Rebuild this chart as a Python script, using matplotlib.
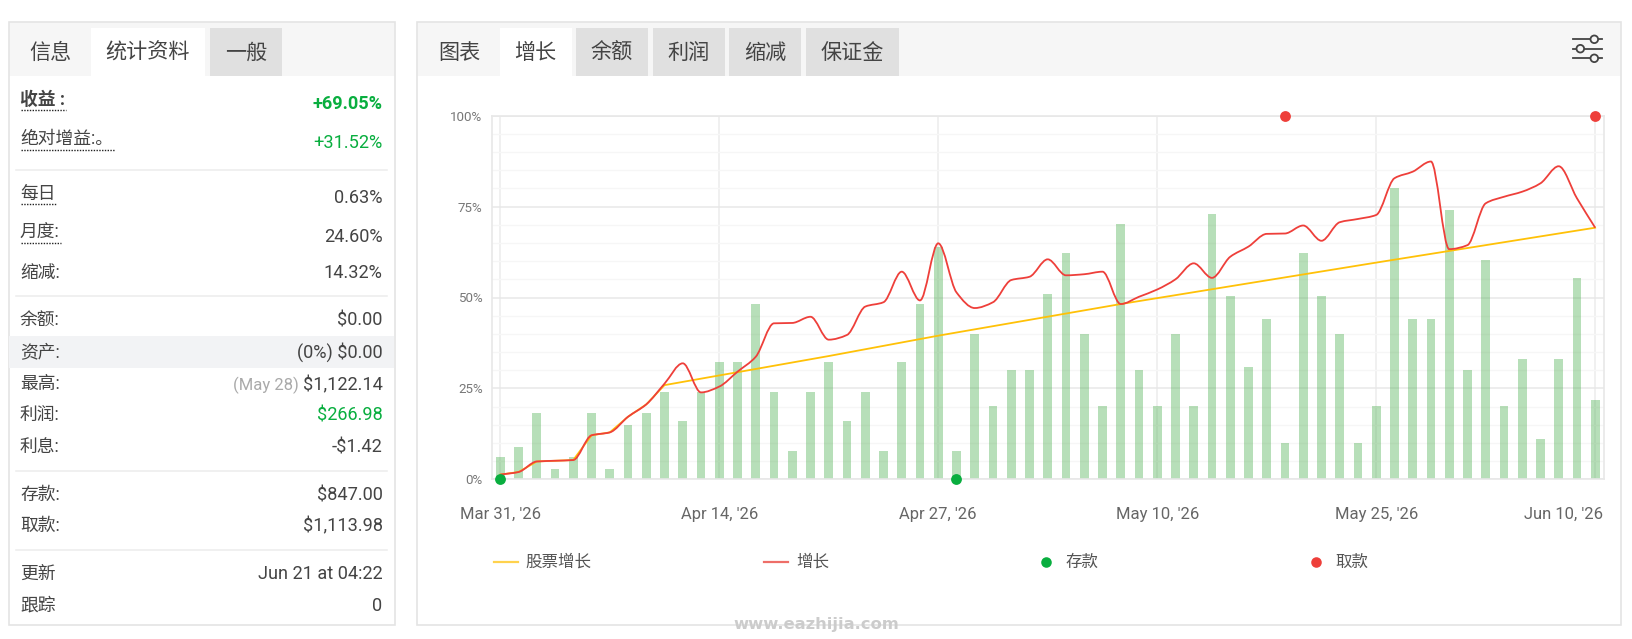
import numpy as np
import matplotlib

matplotlib.use("Agg")

import matplotlib.pyplot as plt
from matplotlib.patches import Circle, PathPatch, Rectangle
from matplotlib.path import Path
from matplotlib.transforms import ScaledTranslation

plt.rcParams["font.family"] = ["Roboto", "Noto Sans CJK SC", "DejaVu Sans"]

W, H = 1632, 639

# chart values, one per trading day
x_labels = ["Mar 31, '26", "Apr 14, '26", "Apr 27, '26", "May 10, '26", "May 25, '26", "Jun 10, '26"]
x_label_idx = [0, 12, 24, 36, 48, 60]
y_ticks = [0, 25, 50, 75, 100]
y_minor = [5, 10, 15, 20, 30, 35, 40, 45, 55, 60, 65, 70, 80, 85, 90, 95]

bars = [
    6.1, 9.0, 18.1, 2.8, 6.1, 18.1, 2.8, 14.8, 18.1, 23.9, 16.0, 23.9, 32.2, 32.2, 48.2, 23.9,
    7.8, 23.9, 32.2, 16.0, 23.9, 7.8, 32.2, 48.2, 64.0, 7.8, 40.0, 20.2, 30.0, 30.0, 51.1, 62.2,
    40.0, 20.2, 70.1, 30.0, 20.2, 40.0, 20.2, 73.0, 50.3, 30.9, 44.1, 9.9, 62.2, 50.3, 40.0, 9.9,
    20.2, 80.0, 44.1, 44.1, 74.2, 30.0, 60.2, 20.2, 33.0, 11.1, 33.0, 55.3, 21.8,
]
growth = [
    1.3, 2.0, 4.9, 5.1, 5.3, 12.1, 12.9, 17.2, 20.6, 26.3, 31.9, 23.9, 25.5, 29.6, 33.7, 42.9,
    43.0, 44.7, 38.4, 39.7, 47.5, 48.7, 57.1, 49.2, 64.9, 51.4, 47.1, 48.7, 54.8, 55.7, 60.5, 56.1,
    56.4, 57.1, 48.2, 50.2, 52.2, 55.0, 59.4, 55.4, 61.2, 64.0, 67.5, 67.6, 69.8, 65.6, 70.7, 71.6,
    72.7, 82.8, 84.6, 87.4, 63.3, 64.4, 75.9, 77.7, 79.1, 81.4, 86.1, 77.3, 69.2,
]
equity_idx = [0, 1, 2, 3, 4, 5, 6, 7, 8, 9, 18, 24, 34, 48, 60]
equity = [1.3, 2.0, 4.9, 5.1, 5.3, 12.1, 12.9, 17.2, 20.6, 25.9, 33.9, 39.5, 48.2, 59.6, 69.2]
deposit_idx = [0, 25]
deposit_val = [0, 0]
withdraw_idx = [43, 60]
withdraw_val = [100, 100]

# side panel text
left_tabs = ["信息", "统计资料", "一般"]
right_tabs = ["图表", "增长", "余额", "利润", "缩减", "保证金"]
legend_names = ["股票增长", "增长", "存款", "取款"]
stat_labels = ["收益 :", "绝对增益:。", "每日", "月度:", "缩减:", "余额:", "资产:", "最高:", "利润:", "利息:", "存款:", "取款:", "更新", "跟踪"]
stat_values = ["+69.05%", "+31.52%", "0.63%", "24.60%", "14.32%", "$0.00", "(0%) $0.00", "$1,122.14", "$266.98", "-$1.42", "$847.00", "$1,113.98", "Jun 21 at 04:22", "0"]

GREEN = "#09ae3f"
RED = "#ee3f3a"
YELLOW = "#ffc107"
TEXT = "#444444"


def monotone_path(xs, ys):
    # same idea as a monotone-x curve, flat at each local peak and dip
    xs = np.asarray(xs, float)
    ys = np.asarray(ys, float)
    h = np.diff(xs)
    s = np.diff(ys) / h
    m = np.zeros(len(xs))
    for i in range(1, len(xs) - 1):
        if s[i - 1] * s[i] > 0:
            m[i] = 2 * s[i - 1] * s[i] / (s[i - 1] + s[i])
    m[0] = s[0]
    m[-1] = s[-1]
    verts = [(xs[0], ys[0])]
    codes = [Path.MOVETO]
    for i in range(len(xs) - 1):
        verts.append((xs[i] + h[i] / 3, ys[i] + m[i] * h[i] / 3))
        verts.append((xs[i + 1] - h[i] / 3, ys[i + 1] - m[i + 1] * h[i] / 3))
        verts.append((xs[i + 1], ys[i + 1]))
        codes += [Path.CURVE4] * 3
    return Path(verts, codes)


def box(ax, x0, y0, x1, y1, color, **kw):
    ax.add_patch(Rectangle((x0, y0), x1 - x0, y1 - y0, facecolor=color, edgecolor="none", **kw))


def draw_panels(ax):
    # outer frames and headers
    for x0, x1 in [(8.5, 394.5), (416.5, 1621)]:
        box(ax, x0, 22, x1, 76, "#f6f6f6")
        ax.add_patch(Rectangle((x0, 22), x1 - x0, 603, facecolor="none", edgecolor="#e4e4e4", lw=1.2))

    box(ax, 91, 28, 205, 76, "white")
    box(ax, 210, 28, 282, 76, "#e0e0e0")
    for name, x in zip(left_tabs, [50.5, 148, 246]):
        ax.text(x, 53, name, fontsize=15.2, color=TEXT, ha="center", va="center")

    box(ax, 500, 28, 572, 76, "white")
    spans = [(576, 648), (653, 725), (729, 801), (806, 899)]
    for x0, x1 in spans:
        box(ax, x0, 28, x1, 76, "#e0e0e0")
    for name, x in zip(right_tabs, [459.5, 535.5, 612, 689, 765, 852.5]):
        ax.text(x, 53, name, fontsize=15.2, color=TEXT, ha="center", va="center")

    # settings icon
    for y, cx in zip([39.3, 48.7, 58.3], [1594.3, 1580.3, 1594.3]):
        ax.plot([1572.7, 1602], [y, y], color="#444444", lw=1.3)
        ax.add_patch(Circle((cx, y), 3.8, facecolor="#f6f6f6", edgecolor="#444444", lw=1.3, zorder=3))

    # stats table
    box(ax, 9, 336, 394, 367.7, "#f2f3f5")
    for y in [170.3, 296, 470.7, 550.3]:
        ax.plot([16, 386.7], [y, y], color="#eeeeee", lw=1.2)

    label_y = [100, 139, 194, 233, 273, 320, 352, 384.5, 415, 447, 495, 526, 573.5, 605.5]
    value_y = [104, 143, 198, 237.5, 273.5, 320.5, 352.5, 385, 415.5, 447.5, 495.5, 526.5, 574, 606]
    value_colors = [GREEN, GREEN] + [TEXT] * 6 + [GREEN] + [TEXT] * 5
    for i, (label, value) in enumerate(zip(stat_labels, stat_values)):
        weight = "bold" if i == 0 else "normal"
        ax.text(20, label_y[i], label, fontsize=12.8, color=TEXT, ha="left", va="center", fontweight=weight)
        ax.text(382.5, value_y[i], value, fontsize=13.1, color=value_colors[i], ha="right", va="center", fontweight=weight)
    ax.text(299, 385, "(May 28)", fontsize=12, color="#aaaaaa", ha="right", va="center")

    for x1, y in zip([66, 115, 57, 61], [110, 149.7, 204, 243.3]):
        ax.plot([21, x1], [y, y], color="#222222", lw=1, ls=(0, (1, 1)))

    # legend row
    ax.plot([494, 518], [561.7, 561.7], color="#ffd24d", lw=1.6)
    ax.plot([764, 788], [561.7, 561.7], color="#ee6e68", lw=1.6)
    ax.plot([1046], [561.7], "o", color=GREEN, ms=7.6, mec="none")
    ax.plot([1315.6], [561.7], "o", color=RED, ms=7.6, mec="none")
    for name, x in zip(legend_names, [525.5, 796, 1065.5, 1335.6]):
        ax.text(x, 562, name, fontsize=11.9, color="#555555", ha="left", va="center")

    ax.text(816, 625, "www.eazhijia.com", fontsize=11.8, color="#cccccc", ha="center", va="center",
            family="DejaVu Sans", fontweight="bold", zorder=5)


def draw_chart(ax, fig):
    idx = np.arange(len(bars))
    ax.set_facecolor("none")
    ax.set_xlim(-0.47, 60.5)
    ax.set_ylim(0, 100)

    ax.bar(idx, bars, width=0.48, color="#4caf50", alpha=0.4, zorder=2)
    ax.plot(equity_idx, equity, color=YELLOW, lw=1.3, zorder=3)
    ax.add_patch(PathPatch(monotone_path(idx, growth), facecolor="none", edgecolor=RED, lw=1.3, zorder=4))
    ax.plot(deposit_idx, deposit_val, "o", color=GREEN, ms=7.8, mec="none", clip_on=False, zorder=5)
    ax.plot(withdraw_idx, withdraw_val, "o", color=RED, ms=7.8, mec="none", clip_on=False, zorder=5)

    ax.set_yticks(y_ticks)
    ax.set_yticklabels([f"{v}%" for v in y_ticks])
    ax.set_yticks(y_minor, minor=True)
    ax.set_xticks(x_label_idx)
    ax.set_xticklabels(x_labels)
    ax.tick_params(axis="y", which="both", length=0)
    ax.tick_params(axis="y", labelsize=9.6, labelcolor="#777777", pad=6.5)
    ax.tick_params(axis="x", length=0, labelsize=12, labelcolor="#666666", pad=20)
    ax.grid(axis="y", which="major", color="#e8e8e8", lw=1.1, zorder=0)
    ax.grid(axis="y", which="minor", color="#f6f6f6", lw=1, zorder=0)
    ax.grid(axis="x", color="#ededed", lw=1.2, zorder=0)
    ax.set_axisbelow(True)
    for spine in ax.spines.values():
        spine.set_color("#e8e8e8")
        spine.set_linewidth(1.2)

    # the last date is pulled back so it stays inside the plot
    last = ax.get_xticklabels()[-1]
    last.set_ha("right")
    last.set_transform(last.get_transform() + ScaledTranslation(8 / 100, 0, fig.dpi_scale_trans))


def main():
    fig = plt.figure(figsize=(W / 100, H / 100), dpi=100, facecolor="white")

    page = fig.add_axes([0, 0, 1, 1])
    page.set_xlim(0, W)
    page.set_ylim(H, 0)
    page.axis("off")
    draw_panels(page)

    chart = fig.add_axes([491.7 / W, 1 - 479.3 / H, 1112.6 / W, 363.6 / H])
    draw_chart(chart, fig)

    fig.savefig("out.png", dpi=100)
    plt.close(fig)


if __name__ == "__main__":
    main()
